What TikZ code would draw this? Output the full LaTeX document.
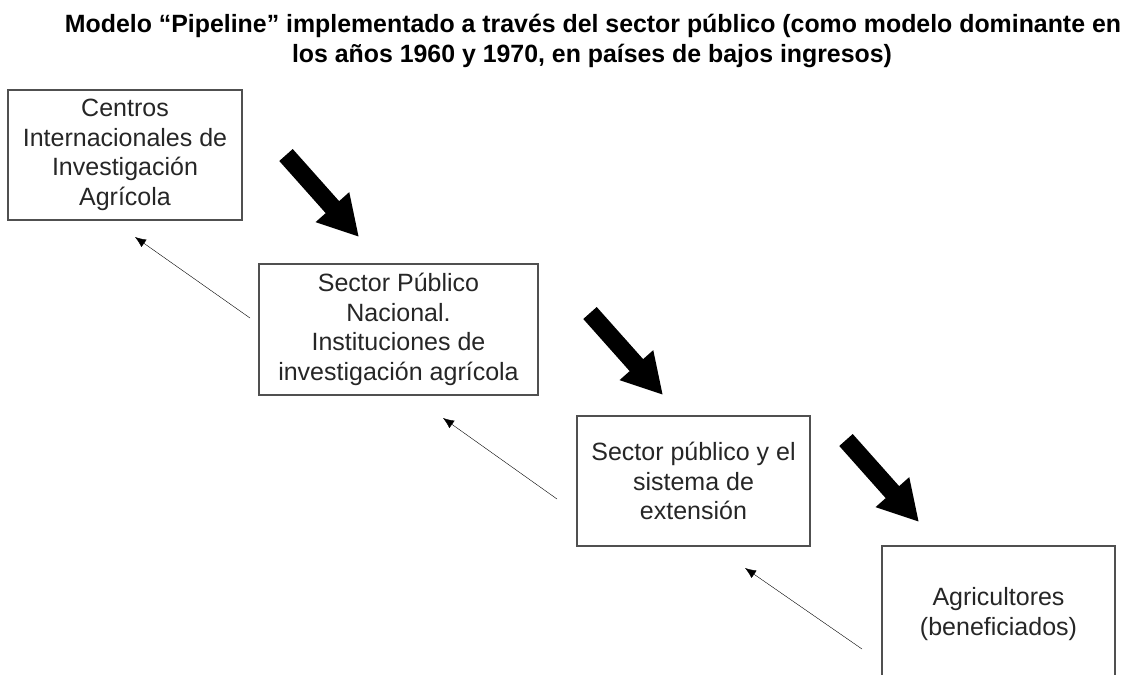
\documentclass[tikz,border=0pt]{standalone}
\usepackage{fontspec}
\setmainfont{Liberation Sans}
\usetikzlibrary{arrows.meta}
\definecolor{txt}{HTML}{262626}
\definecolor{boxline}{HTML}{505050}
\definecolor{thin}{HTML}{303030}
\tikzset{
  stagebox/.style={draw=boxline, line width=1.8pt, fill=white, rectangle, inner sep=0pt,
    align=center, text=txt, font=\fontsize{25}{29.5}\selectfont},
  bigarrow/.style={line width=18pt, black, line cap=butt, -{Triangle[width=42pt,length=40pt]}},
  backarrow/.style={line width=2pt, thin, -{Latex[length=11pt,width=9pt]}},
  titletext/.style={anchor=base, inner sep=0pt, text=black, font=\fontsize{25}{30}\selectfont\bfseries}
}
\begin{document}
\begin{tikzpicture}[x=1pt,y=-1pt]
\useasboundingbox (0,0) rectangle (1128,675);
% title
\node[titletext] (t1) at (593,32) {\resizebox{1056pt}{\height}{Modelo “Pipeline” implementado a través del sector público (como modelo dominante en}};
\node[titletext] (t2) at (592,62) {\resizebox{600pt}{\height}{los años 1960 y 1970, en países de bajos ingresos)}};
% boxes
\node[stagebox, minimum width=234pt, minimum height=130pt] (b1) at (125,155)
  {Centros\\Internacionales de\\Investigación\\Agrícola};
\node[stagebox, minimum width=279pt, minimum height=131pt] (b2) at (398.5,329.5)
  {Sector Público\\Nacional.\\Instituciones de\\investigación agrícola};
\node[stagebox, minimum width=233pt, minimum height=130pt] (b3) at (693.5,481)
  {Sector público y el\\sistema de\\extensión};
\node[stagebox, minimum width=233pt, minimum height=136pt] (b4) at (998.5,614)
  {Agricultores\\(beneficiados)};
% thick arrows
\coordinate (a1s) at (286,155); \coordinate (a1e) at (359,237);
\coordinate (a2s) at (590,313); \coordinate (a2e) at (663,395);
\coordinate (a3s) at (846,440); \coordinate (a3e) at (919,522);
\draw[bigarrow] (a1s) -- (a1e);
\draw[bigarrow] (a2s) -- (a2e);
\draw[bigarrow] (a3s) -- (a3e);
% thin return arrows
\coordinate (r1s) at (250,318); \coordinate (r1e) at (135,237);
\coordinate (r2s) at (557,499); \coordinate (r2e) at (443,418);
\coordinate (r3s) at (862,649); \coordinate (r3e) at (745,568);
\draw[backarrow] (r1s) -- (r1e);
\draw[backarrow] (r2s) -- (r2e);
\draw[backarrow] (r3s) -- (r3e);
\end{tikzpicture}
\end{document}
